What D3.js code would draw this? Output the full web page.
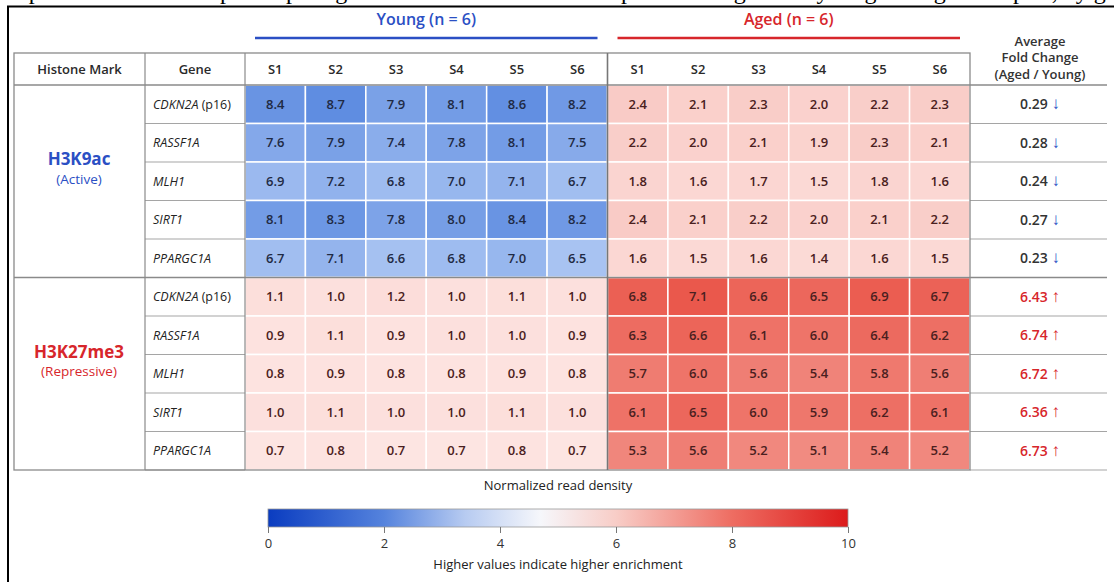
<!DOCTYPE html>
<html>
<head>
<meta charset="utf-8">
<script src="https://cdn.jsdelivr.net/npm/d3@7"></script>
<style>
  body { margin: 0; background: #fff; }
  svg { display: block; font-family: "Open Sans", "Noto Sans", sans-serif; }
</style>
</head>
<body>
<div id="chart"></div>
<script>
// data
const samples = ["S1", "S2", "S3", "S4", "S5", "S6"];
const genes = ["CDKN2A", "RASSF1A", "MLH1", "SIRT1", "PPARGC1A"];
const marks = ["H3K9ac", "H3K27me3"];
const markNotes = ["(Active)", "(Repressive)"];

const youngH3K9ac = [
  [8.4, 8.7, 7.9, 8.1, 8.6, 8.2],
  [7.6, 7.9, 7.4, 7.8, 8.1, 7.5],
  [6.9, 7.2, 6.8, 7.0, 7.1, 6.7],
  [8.1, 8.3, 7.8, 8.0, 8.4, 8.2],
  [6.7, 7.1, 6.6, 6.8, 7.0, 6.5]
];
const agedH3K9ac = [
  [2.4, 2.1, 2.3, 2.0, 2.2, 2.3],
  [2.2, 2.0, 2.1, 1.9, 2.3, 2.1],
  [1.8, 1.6, 1.7, 1.5, 1.8, 1.6],
  [2.4, 2.1, 2.2, 2.0, 2.1, 2.2],
  [1.6, 1.5, 1.6, 1.4, 1.6, 1.5]
];
const youngH3K27me3 = [
  [1.1, 1.0, 1.2, 1.0, 1.1, 1.0],
  [0.9, 1.1, 0.9, 1.0, 1.0, 0.9],
  [0.8, 0.9, 0.8, 0.8, 0.9, 0.8],
  [1.0, 1.1, 1.0, 1.0, 1.1, 1.0],
  [0.7, 0.8, 0.7, 0.7, 0.8, 0.7]
];
const agedH3K27me3 = [
  [6.8, 7.1, 6.6, 6.5, 6.9, 6.7],
  [6.3, 6.6, 6.1, 6.0, 6.4, 6.2],
  [5.7, 6.0, 5.6, 5.4, 5.8, 5.6],
  [6.1, 6.5, 6.0, 5.9, 6.2, 6.1],
  [5.3, 5.6, 5.2, 5.1, 5.4, 5.2]
];
const foldH3K9ac = [0.29, 0.28, 0.24, 0.27, 0.23];
const foldH3K27me3 = [6.43, 6.74, 6.72, 6.36, 6.73];
const legendTicks = [0, 2, 4, 6, 8, 10];

const W = 1114, H = 582;
const blue = "#2b4fc4", red = "#d7262b", gridGray = "#8a8a8a";

const svg = d3.select("#chart").append("svg")
    .attr("width", W)
    .attr("height", H);

// page frame (this picture is cropped out of a document)
svg.append("text")
    .attr("x", 2).attr("y", -1)
    .attr("font-family", "Liberation Serif, serif")
    .attr("font-size", 24)
    .attr("fill", "#000")
    .text("Representative heatmap: comparing histone mark enrichment at promoter regions in young and aged samples, by gene and by sample");
svg.append("line").attr("x1", 7).attr("x2", W).attr("y1", 6.5).attr("y2", 6.5)
    .attr("stroke", "#000").attr("stroke-width", 2);
svg.append("line").attr("x1", 8).attr("x2", 8).attr("y1", 6).attr("y2", H)
    .attr("stroke", "#000").attr("stroke-width", 2);

// long table of cells
const rows = [];
marks.forEach((m, mi) => genes.forEach(g => rows.push(m + "|" + g)));
const cols = [];
["Young", "Aged"].forEach(grp => samples.forEach(s => cols.push(grp + "|" + s)));

const x = d3.scaleBand().domain(cols).range([245, 970]);
const y = d3.scaleBand().domain(rows).range([85, 470]);

const tables = {
  "H3K9ac|Young": youngH3K9ac, "H3K9ac|Aged": agedH3K9ac,
  "H3K27me3|Young": youngH3K27me3, "H3K27me3|Aged": agedH3K27me3
};
const cells = [];
marks.forEach(m => ["Young", "Aged"].forEach(grp => {
  tables[m + "|" + grp].forEach((r, gi) => r.forEach((v, si) => {
    cells.push({mark: m, grp: grp, row: m + "|" + genes[gi], col: grp + "|" + samples[si], value: v});
  }));
}));

// active mark in young samples is shaded blue, everything else red
const blueScale = d3.scaleLinear().domain([6.5, 8.7]).range(["#a8c3f2", "#5f8de1"]);
const redScale = d3.scaleLinear().domain([0.7, 2.4, 5.1, 7.1])
    .range(["#fde5e2", "#f9cbc6", "#f18b81", "#ea584c"]);
const isBlue = d => d.mark === "H3K9ac" && d.grp === "Young";
const fillFor = d => isBlue(d) ? blueScale(d.value) : redScale(d.value);

svg.append("g").selectAll("rect")
    .data(cells)
    .join("rect")
    .attr("x", d => x(d.col))
    .attr("y", d => y(d.row))
    .attr("width", x.bandwidth())
    .attr("height", y.bandwidth())
    .attr("fill", fillFor)
    .attr("stroke", "#fff")
    .attr("stroke-width", 1.5);

svg.append("g").selectAll("text")
    .data(cells)
    .join("text")
    .attr("x", d => x(d.col) + x.bandwidth() / 2)
    .attr("y", d => y(d.row) + y.bandwidth() / 2)
    .attr("dy", "0.35em")
    .attr("text-anchor", "middle")
    .attr("font-size", 13)
    .attr("font-weight", 600)
    .attr("fill", d => isBlue(d) ? "#1f2a44" : "#4a2020")
    .text(d => d.value.toFixed(1));

// label columns
const left = 14, geneX = 145;
const grid = svg.append("g").attr("stroke", gridGray).attr("fill", "none");
// gene row lines
rows.forEach(r => {
  grid.append("line").attr("x1", geneX).attr("x2", 245)
      .attr("y1", y(r) + y.bandwidth()).attr("y2", y(r) + y.bandwidth())
      .attr("stroke-width", 1).attr("stroke", "#a5a5a5");
  grid.append("line").attr("x1", 970).attr("x2", 1107)
      .attr("y1", y(r) + y.bandwidth()).attr("y2", y(r) + y.bandwidth())
      .attr("stroke-width", 1).attr("stroke", "#a5a5a5");
});
// outer box and group separators
grid.append("rect").attr("x", left).attr("y", 53).attr("width", 970 - left).attr("height", 470 - 53)
    .attr("stroke-width", 1.3);
grid.append("line").attr("x1", left).attr("x2", 970).attr("y1", 85).attr("y2", 85).attr("stroke-width", 1.3);
grid.append("line").attr("x1", 970).attr("x2", 1107).attr("y1", 85).attr("y2", 85).attr("stroke-width", 1.3);
grid.append("line").attr("x1", left).attr("x2", 970)
    .attr("y1", y(rows[5])).attr("y2", y(rows[5])).attr("stroke-width", 1.5);
grid.append("line").attr("x1", 970).attr("x2", 1107)
    .attr("y1", y(rows[5])).attr("y2", y(rows[5])).attr("stroke-width", 1.3);
[geneX, 245].forEach(xx => grid.append("line").attr("x1", xx).attr("x2", xx)
    .attr("y1", 53).attr("y2", 470).attr("stroke-width", 1.2));
grid.append("line").attr("x1", x("Aged|S1")).attr("x2", x("Aged|S1"))
    .attr("y1", 53).attr("y2", 470).attr("stroke-width", 1.6).attr("stroke", "#777");

// header row
const head = svg.append("g").attr("font-size", 13).attr("font-weight", 600)
    .attr("fill", "#2a2a2a").attr("text-anchor", "middle");
head.append("text").attr("x", (left + geneX) / 2).attr("y", 69).attr("dy", "0.35em").text("Histone Mark");
head.append("text").attr("x", (geneX + 245) / 2).attr("y", 69).attr("dy", "0.35em").text("Gene");
head.selectAll("text.s").data(cols).join("text")
    .attr("class", "s")
    .attr("x", d => x(d) + x.bandwidth() / 2)
    .attr("y", 69).attr("dy", "0.35em")
    .text(d => d.split("|")[1]);

// fold change header
const fc = svg.append("g").attr("font-size", 13).attr("font-weight", 600).attr("fill", "#333").attr("text-anchor", "middle");
["Average", "Fold Change", "(Aged / Young)"].forEach((t, i) => {
  fc.append("text").attr("x", 1040).attr("y", 41 + i * 16.5).attr("dy", "0.35em").text(t);
});

// group titles
const groups = [
  {name: "Young (n = 6)", color: blue, from: "Young|S1", to: "Young|S6"},
  {name: "Aged (n = 6)", color: red, from: "Aged|S1", to: "Aged|S6"}
];
groups.forEach(g => {
  const x0 = x(g.from) + 10, x1 = x(g.to) + x.bandwidth() - 10;
  svg.append("text").attr("x", (x0 + x1) / 2).attr("y", 19).attr("dy", "0.35em")
      .attr("text-anchor", "middle").attr("font-size", 16).attr("font-weight", 600)
      .attr("fill", g.color).text(g.name);
  svg.append("line").attr("x1", x0).attr("x2", x1).attr("y1", 38).attr("y2", 38)
      .attr("stroke", g.color).attr("stroke-width", 2.5);
});

// gene names
svg.append("g").selectAll("text").data(rows).join("text")
    .attr("x", 153)
    .attr("y", d => y(d) + y.bandwidth() / 2)
    .attr("dy", "0.35em")
    .attr("font-size", 12.5)
    .attr("font-weight", 500)
    .attr("fill", "#222")
    .each(function(d) {
      const g = d.split("|")[1];
      const t = d3.select(this);
      t.append("tspan").attr("font-style", "italic").text(g);
      if (g === "CDKN2A") t.append("tspan").text(" (p16)");
    });

// histone mark labels
marks.forEach((m, mi) => {
  const top = y(rows[mi * 5]), bottom = y(rows[mi * 5 + 4]) + y.bandwidth();
  const cy = (top + bottom) / 2;
  const c = mi === 0 ? blue : red;
  svg.append("text").attr("x", 79).attr("y", cy - 22).attr("dy", "0.35em")
      .attr("text-anchor", "middle").attr("font-size", 17).attr("font-weight", 700)
      .attr("fill", c).text(m);
  svg.append("text").attr("x", 79).attr("y", cy - 2).attr("dy", "0.35em")
      .attr("text-anchor", "middle").attr("font-size", 13.5).attr("font-weight", 500)
      .attr("fill", c).text(markNotes[mi]);
});

// fold change values
const folds = foldH3K9ac.map((v, i) => ({row: rows[i], v: v, up: false}))
    .concat(foldH3K27me3.map((v, i) => ({row: rows[i + 5], v: v, up: true})));
const fcText = svg.append("g").selectAll("text").data(folds).join("text")
    .attr("x", 1040)
    .attr("y", d => y(d.row) + y.bandwidth() / 2)
    .attr("dy", "0.35em")
    .attr("text-anchor", "middle")
    .attr("font-size", 14)
    .attr("font-weight", 600);
fcText.append("tspan").attr("fill", d => d.up ? red : "#333").text(d => d.v.toFixed(2) + " ");
fcText.append("tspan").attr("fill", d => d.up ? red : blue).attr("font-size", 17)
    .attr("font-weight", 700).text(d => d.up ? "\u2191" : "\u2193");

// color legend
const lx = d3.scaleLinear().domain([0, 10]).range([268, 848]);
const defs = svg.append("defs");
const grad = defs.append("linearGradient").attr("id", "legendGrad");
[[0, "#0a3cc0"], [2, "#5583dd"], [3.4, "#b7cbf1"], [4.7, "#f6f7fb"], [6, "#f8cdc7"], [8, "#ee6d62"], [10, "#dc1b1b"]]
  .forEach(s => grad.append("stop").attr("offset", (s[0] * 10) + "%").attr("stop-color", s[1]));
svg.append("rect").attr("x", lx(0)).attr("y", 509).attr("width", lx(10) - lx(0)).attr("height", 18)
    .attr("fill", "url(#legendGrad)").attr("stroke", "#999").attr("stroke-width", 0.8);

const legendAxis = svg.append("g")
    .attr("transform", "translate(0,527)")
    .call(d3.axisBottom(lx).tickValues(legendTicks).tickSize(6).tickPadding(6));
legendAxis.select(".domain").remove();
legendAxis.selectAll("line").attr("stroke", "#777");
legendAxis.selectAll("text").attr("font-size", 13).attr("fill", "#333").attr("font-weight", 500)
    .attr("font-family", "Open Sans, sans-serif");

svg.append("text").attr("x", (lx(0) + lx(10)) / 2).attr("y", 485).attr("dy", "0.35em")
    .attr("text-anchor", "middle").attr("font-size", 13).attr("font-weight", 500).attr("fill", "#222")
    .text("Normalized read density");
svg.append("text").attr("x", (lx(0) + lx(10)) / 2).attr("y", 564).attr("dy", "0.35em")
    .attr("text-anchor", "middle").attr("font-size", 13).attr("font-weight", 500).attr("fill", "#222")
    .text("Higher values indicate higher enrichment");
</script>
</body>
</html>
